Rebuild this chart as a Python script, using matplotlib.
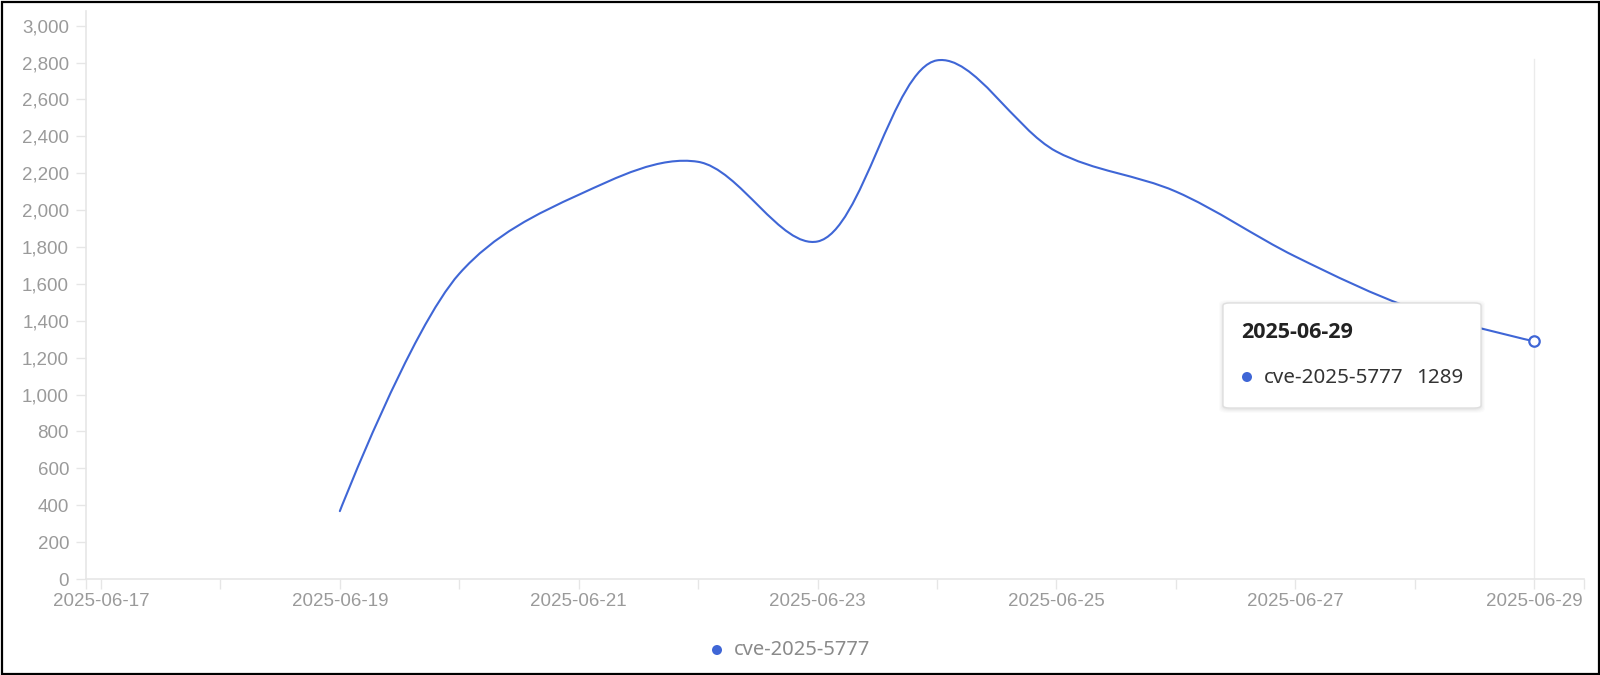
import matplotlib
matplotlib.use('Agg')
import matplotlib.pyplot as plt
import matplotlib.dates as mdates
import numpy as np
from matplotlib.path import Path
from matplotlib.patches import PathPatch, FancyBboxPatch, Rectangle, Ellipse
from datetime import datetime

# ---------------- data ----------------
dates = ['2025-06-19', '2025-06-20', '2025-06-21', '2025-06-22', '2025-06-23',
         '2025-06-24', '2025-06-25', '2025-06-26', '2025-06-27', '2025-06-28',
         '2025-06-29']
values = [368, 1655, 2083, 2262, 1830, 2812, 2318, 2101, 1749, 1462, 1289]
series_name = 'cve-2025-5777'
y_ticks = list(range(0, 3001, 200))
x_label_dates = ['2025-06-17', '2025-06-19', '2025-06-21', '2025-06-23',
                 '2025-06-25', '2025-06-27', '2025-06-29']
tooltip_date = '2025-06-29'
tooltip_value = 1289

LINE = '#3f66d6'
AXIS = '#e6e6e6'
LABEL = '#9a9a9a'

W, H = 1600, 675
fig = plt.figure(figsize=(W / 100, H / 100), dpi=100)


def fx(px):
    return px / W


def fy(py):
    return 1 - py / H


left, right, top, bottom = 86, 1584, 10.7, 579
ax = fig.add_axes([fx(left), fy(bottom), (right - left) / W, (bottom - top) / H])

xnum = mdates.date2num([datetime.strptime(d, '%Y-%m-%d') for d in dates])
d17 = mdates.date2num(datetime(2025, 6, 17))
d29 = mdates.date2num(datetime(2025, 6, 29))
day_px = (1534 - 101) / 12.0
ax.set_xlim(d17 - (101 - left) / day_px, d29 + (right - 1534) / day_px)
ymax = 3000 * (bottom - top) / (bottom - 25.7)
ax.set_ylim(0, ymax)

# ticks
lab_nums = mdates.date2num([datetime.strptime(d, '%Y-%m-%d') for d in x_label_dates])
ax.set_xticks(lab_nums)
ax.set_xticklabels(x_label_dates)
labset = set(np.round(lab_nums, 3))
minor = [d17 + k for k in range(13) if round(d17 + k, 3) not in labset]
minor += list(ax.get_xlim())
ax.set_xticks(minor, minor=True)
ax.set_yticks(y_ticks)
ax.set_yticklabels([f'{v:,}' for v in y_ticks])

for s in ['top', 'right']:
    ax.spines[s].set_visible(False)
for s in ['left', 'bottom']:
    ax.spines[s].set_color(AXIS)
    ax.spines[s].set_linewidth(1.2)

ax.tick_params(axis='both', which='both', color=AXIS, width=1.0, length=7.2,
               labelcolor=LABEL, labelsize=13.5)
ax.tick_params(axis='y', pad=5.0)
ax.tick_params(axis='x', pad=3.2)
for lab in ax.get_xticklabels() + ax.get_yticklabels():
    lab.set_fontfamily(['Liberation Sans', 'DejaVu Sans'])

# crosshair line
ax.axvline(d29, ymin=0, ymax=(bottom - 59) / (bottom - top), color='#ebebeb', lw=1.0, zorder=1)

# smooth line: centripetal Catmull-Rom (alpha = 0.5) in display space
pts = ax.transData.transform(np.column_stack([xnum, values]))
n = len(pts)
alpha = 0.5
ext = np.vstack([pts[0], pts, pts[-1]])
verts = [pts[0]]
codes = [Path.MOVETO]
eps = 1e-9
for i in range(1, n):
    p0, p1, p2, p3 = ext[i - 1], ext[i], ext[i + 1], ext[i + 2]
    d01 = np.hypot(*(p1 - p0))
    d12 = np.hypot(*(p2 - p1))
    d23 = np.hypot(*(p3 - p2))
    l01a, l12a, l23a = d01 ** alpha, d12 ** alpha, d23 ** alpha
    l01_2a, l12_2a, l23_2a = d01 ** (2 * alpha), d12 ** (2 * alpha), d23 ** (2 * alpha)
    c1 = p1.copy()
    c2 = p2.copy()
    if l01a > eps:
        a = 2 * l01_2a + 3 * l01a * l12a + l12_2a
        m = 3 * l01a * (l01a + l12a)
        c1 = (p1 * a - p0 * l12_2a + p2 * l01_2a) / m
    if l23a > eps:
        b = 2 * l23_2a + 3 * l23a * l12a + l12_2a
        m = 3 * l23a * (l23a + l12a)
        c2 = (p2 * b + p1 * l23_2a - p3 * l12_2a) / m
    verts += [c1, c2, p2]
    codes += [Path.CURVE4] * 3
inv = ax.transData.inverted()
verts = inv.transform(np.array(verts))
ax.add_patch(PathPatch(Path(verts, codes), fill=False, edgecolor=LINE, lw=1.5,
                       capstyle='round', joinstyle='round', zorder=3))

ax.plot([xnum[-1]], [values[-1]], 'o', mfc='white', mec=LINE, ms=7.5, mew=1.6, zorder=4)

# ---------------- tooltip ----------------
tx0, ty0, tx1, ty1 = 1223, 303, 1481, 408
for k, a in [(4, 0.015), (3, 0.02), (2, 0.025), (1, 0.03)]:
    fig.patches.append(FancyBboxPatch((fx(tx0 - k), fy(ty1 + k + 1)),
                                      fx(tx1 - tx0 + 2 * k), (ty1 - ty0 + 2 * k) / H,
                                      boxstyle='round,pad=0,rounding_size=0.006',
                                      transform=fig.transFigure, facecolor='black',
                                      edgecolor='none', alpha=a, zorder=5))
fig.patches.append(FancyBboxPatch((fx(tx0), fy(ty1)), fx(tx1 - tx0), (ty1 - ty0) / H,
                                  boxstyle='round,pad=0,rounding_size=0.004',
                                  transform=fig.transFigure, facecolor='white',
                                  edgecolor='#dedede', lw=1.0, zorder=6))
fig.text(fx(1241), fy(332), tooltip_date, fontsize=15.5, fontweight='bold', color='#222222',
         ha='left', va='center', family=['Open Sans', 'Noto Sans', 'DejaVu Sans'], zorder=7)
fig.patches.append(Ellipse((fx(1247), fy(377)), 10 / W, 10 / H, transform=fig.transFigure,
                           facecolor=LINE, edgecolor='none', zorder=7))
fig.text(fx(1264), fy(378), series_name, fontsize=14.8, color='#333333',
         ha='left', va='center', family=['Noto Sans', 'DejaVu Sans'], zorder=7)
fig.text(fx(1463), fy(378), str(tooltip_value), fontsize=14.8, color='#333333',
         ha='right', va='center', family=['Noto Sans', 'DejaVu Sans'], zorder=7)

# ---------------- legend ----------------
fig.patches.append(Ellipse((fx(717), fy(650)), 10 / W, 10 / H, transform=fig.transFigure,
                           facecolor=LINE, edgecolor='none', zorder=7))
fig.text(fx(734), fy(650), series_name, fontsize=14.5, color='#8a8a8a',
         ha='left', va='center', family=['Noto Sans', 'DejaVu Sans'], zorder=7)

# ---------------- outer frame ----------------
fig.patches.append(Rectangle((fx(1.5), fy(673.5)), fx(1597), (672) / H, transform=fig.transFigure,
                             fill=False, edgecolor='black', lw=1.6, zorder=10))

fig.savefig('out.png', dpi=100, facecolor='white')
